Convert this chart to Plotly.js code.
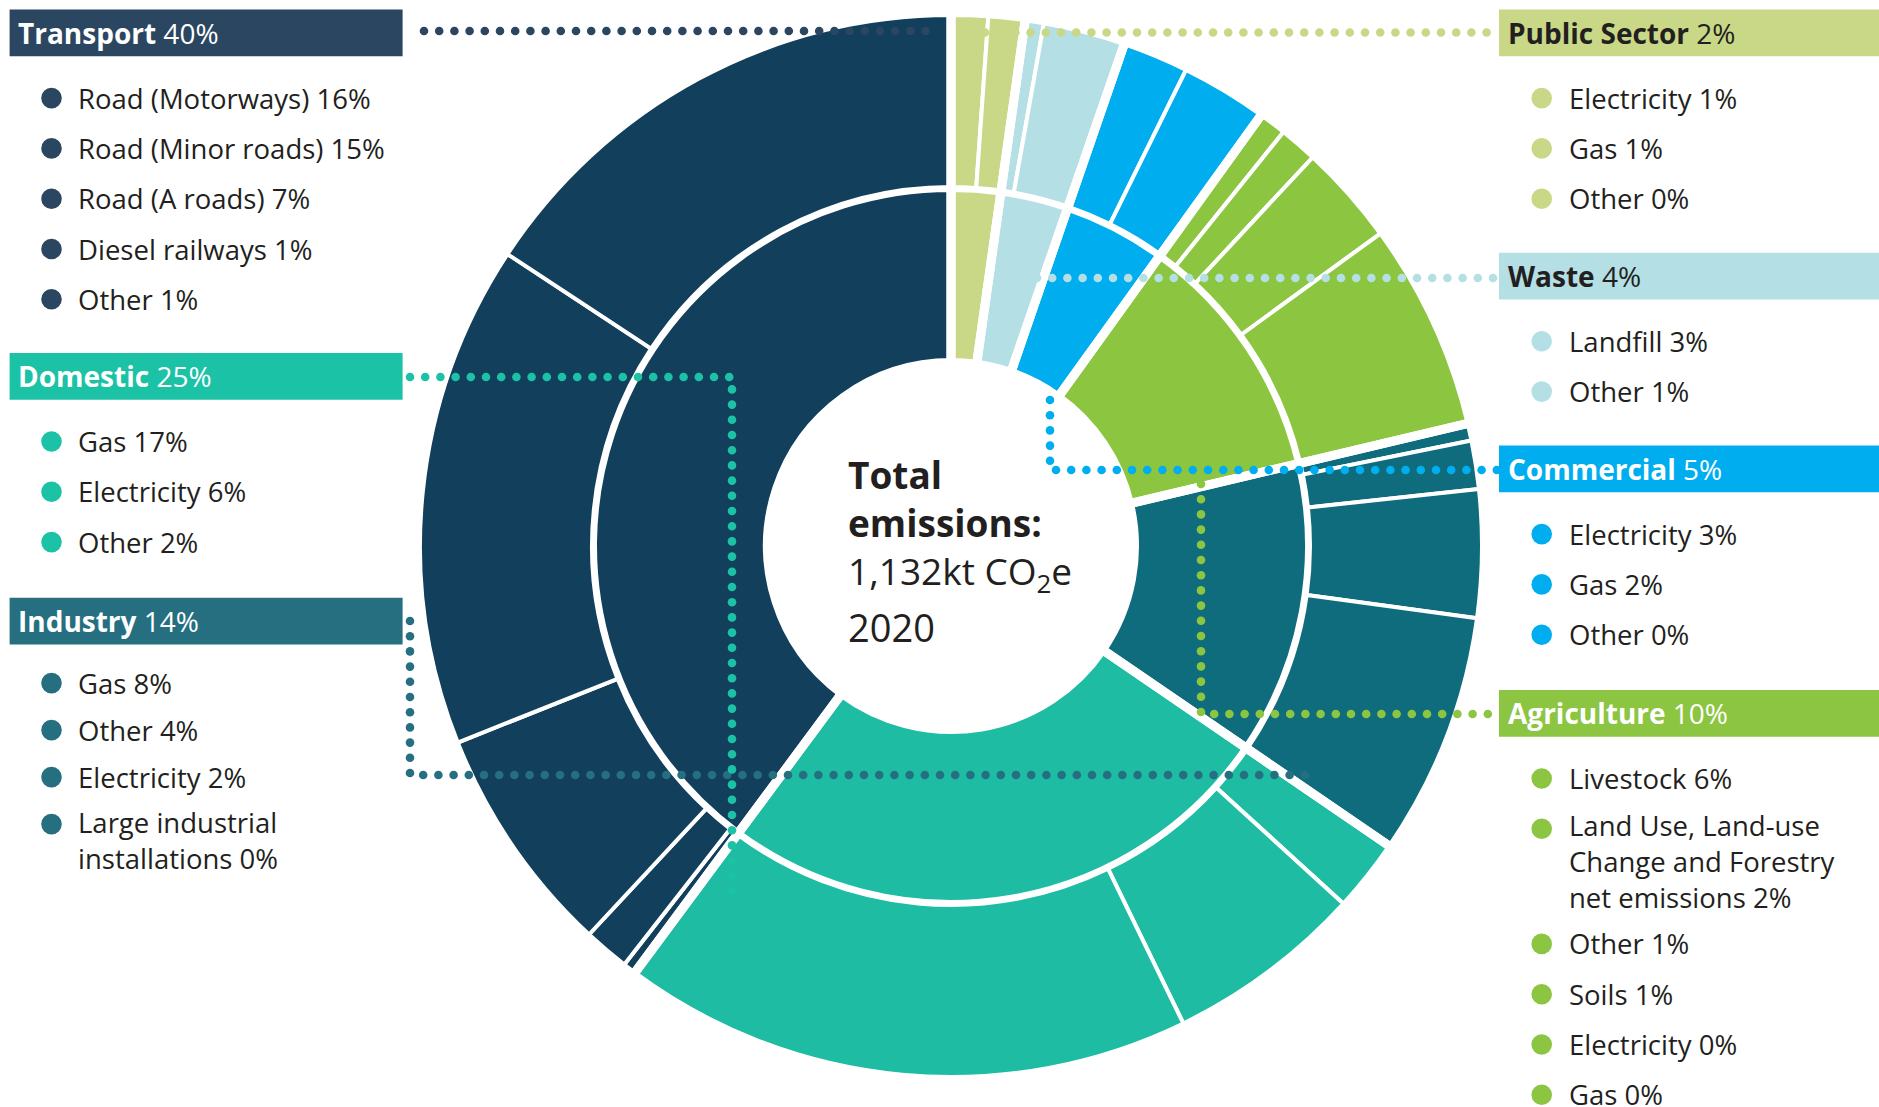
<!DOCTYPE html>
<html><head><meta charset="utf-8">
<script src="https://cdn.plot.ly/plotly-3.0.1.min.js"></script>
<style>html,body{margin:0;padding:0;background:#fff;}#chart{width:1879px;height:1107px;}</style>
</head><body><div id="chart"></div>
<script>
// ================= DATA =================
// Sectors, clockwise from 12 o'clock, with the percentages printed in the key
const categories  = ['Public Sector', 'Waste', 'Commercial', 'Agriculture', 'Industry', 'Domestic', 'Transport'];
const categoryPct = [2, 4, 5, 10, 14, 25, 40];

// Sub-sectors (key order). *Pct = printed %, *Share = slice size (% of circle)
const publicLabels = ['Electricity', 'Gas', 'Other'];
const publicPct    = [1, 1, 0];
const publicShare  = [1.11, 1.12, 0];

const wasteLabels = ['Landfill', 'Other'];
const wastePct    = [3, 1];
const wasteShare  = [2.49, 0.57];

const commercialLabels = ['Electricity', 'Gas', 'Other'];
const commercialPct    = [3, 2, 0];
const commercialShare  = [2.63, 2.01, 0];

const agricultureLabels = ['Livestock', 'Land Use, Land-use\nChange and Forestry\nnet emissions', 'Other', 'Soils', 'Electricity', 'Gas'];
const agriculturePct    = [6, 2, 1, 1, 0, 0];
const agricultureShare  = [6.31, 3.06, 1.16, 0.84, 0, 0];

const industryLabels = ['Gas', 'Other', 'Electricity', 'Large industrial\ninstallations'];
const industryPct    = [8, 4, 2, 0];
const industryShare  = [7.38, 3.89, 1.47, 0.52];

const domesticLabels = ['Gas', 'Electricity', 'Other'];
const domesticPct    = [17, 6, 2];
const domesticShare  = [17.36, 6.03, 2.21];

const transportLabels = ['Road (Motorways)', 'Road (Minor roads)', 'Road (A roads)', 'Diesel railways', 'Other'];
const transportPct    = [16, 15, 7, 1, 1];
const transportShare  = [15.74, 15.30, 7.03, 1.39, 0.40];

const totalTitle = ['Total', 'emissions:'];
const totalValue = '1,132kt CO<sub>2</sub>e';
const totalYear  = '2020';

// ================= STYLE / LAYOUT =================
const W = 1879, H = 1107;
const FONT = 'Open Sans, Noto Sans, sans-serif';
const TXT = '#231f20';
const groups = {
  'Public Sector': {labels: publicLabels, pct: publicPct, share: publicShare},
  'Waste':         {labels: wasteLabels, pct: wastePct, share: wasteShare},
  'Commercial':    {labels: commercialLabels, pct: commercialPct, share: commercialShare},
  'Agriculture':   {labels: agricultureLabels, pct: agriculturePct, share: agricultureShare},
  'Industry':      {labels: industryLabels, pct: industryPct, share: industryShare},
  'Domestic':      {labels: domesticLabels, pct: domesticPct, share: domesticShare},
  'Transport':     {labels: transportLabels, pct: transportPct, share: transportShare}
};
const sliceColor = {'Public Sector':'#c8d886','Waste':'#b3dfe5','Commercial':'#00aeef','Agriculture':'#8cc540',
                    'Industry':'#0f6c7d','Domestic':'#1dbca3','Transport':'#123f5b'};
const keyColor   = {'Public Sector':'#c8d886','Waste':'#b3dfe5','Commercial':'#00aeef','Agriculture':'#8cc541',
                    'Industry':'#256f80','Domestic':'#1cc2a6','Transport':'#2b4660'};
const headTextColor = {'Public Sector':TXT,'Waste':TXT,'Commercial':'#fff','Agriculture':'#fff',
                       'Industry':'#fff','Domestic':'#fff','Transport':'#fff'};
// key block placement (px)
const keyPos = {
  'Transport':     {side:'L', top:9.6,   first:88.5, step:50.3},
  'Domestic':      {side:'L', top:353.0, first:88.5, step:50.3},
  'Industry':      {side:'L', top:597.8, first:85.3, step:47.0},
  'Public Sector': {side:'R', top:9.6,   first:88.5, step:50.3},
  'Waste':         {side:'R', top:252.8, first:88.5, step:50.3},
  'Commercial':    {side:'R', top:445.6, first:88.5, step:50.3},
  'Agriculture':   {side:'R', top:690.0, first:88.5, step:50.3}
};
const connectors = {
  'Transport':     [[424,31],[930,31]],
  'Public Sector': [[985,32.5],[1497,32.5]],
  'Waste':         [[1037,278],[1497,278]],
  'Commercial':    [[1050,400],[1050,470],[1497,470]],
  'Agriculture':   [[1201,484],[1201,714],[1497,714]],
  'Domestic':      [[410,377],[732,377],[732,902]],
  'Industry':      [[410,621],[410,775],[1312,775]]
};
const CX = 951, CY = 546;

const px = x => x / W, py = y => 1 - y / H;
function dom(r){ return {x:[px(CX - r), px(CX + r)], y:[py(CY + r), py(CY - r)]}; }
function circle(cx, cy, r, color){
  return {type:'circle', xref:'paper', yref:'paper', x0:px(cx-r), x1:px(cx+r), y0:py(cy+r), y1:py(cy-r),
          fillcolor:color, line:{width:0}, layer:'above'};
}
function dotsAlong(pts, color){
  const out = []; const step = 15.2, r = 4.3; let carry = 0;
  for (let i = 0; i < pts.length - 1; i++){
    const [x0,y0] = pts[i], [x1,y1] = pts[i+1];
    const L = Math.hypot(x1-x0, y1-y0); let d = carry;
    while (d <= L + 0.01){ const t = d / L; out.push(circle(x0+(x1-x0)*t, y0+(y1-y0)*t, r, color)); d += step; }
    carry = d - L;
  }
  return out;
}

// ---- build pie inputs ----
const outerV = [], outerL = [], outerC = [], innerV = [], innerC = [];
categories.forEach(cat => {
  const g = groups[cat]; let sum = 0;
  for (let i = g.share.length - 1; i >= 0; i--){          // drawn smallest-first, clockwise
    sum += g.share[i];
    if (g.share[i] > 0){ outerV.push(g.share[i]); outerL.push(cat + ' – ' + g.labels[i].replace(/\n/g,' ')); outerC.push(sliceColor[cat]); }
  }
  innerV.push(sum); innerC.push(sliceColor[cat]);
});

const R_OUT = 531, R_OUT_HOLE = 359, R_IN = 356, R_IN_HOLE = 186;
const traces = [
  {type:'pie', values: outerV, labels: outerL, sort:false, direction:'clockwise', rotation:0,
   hole: R_OUT_HOLE / R_OUT, domain: dom(R_OUT), textinfo:'none', hoverinfo:'label+percent',
   marker:{colors: outerC, line:{color:'#ffffff', width:4}}, showlegend:false},
  {type:'pie', values: innerV, labels: categories, sort:false, direction:'clockwise', rotation:0,
   hole: R_IN_HOLE / R_IN, domain: dom(R_IN), textinfo:'none', hoverinfo:'label+percent',
   marker:{colors: innerC, line:{color:'#ffffff', width:4}}, showlegend:false},
  // wider white separators between sectors across both rings
  {type:'pie', values: innerV, labels: categories.map(c => c + ' '), sort:false, direction:'clockwise', rotation:0,
   hole: 150 / 538, domain: dom(538), textinfo:'none', hoverinfo:'skip',
   marker:{colors: innerC.map(() => 'rgba(0,0,0,0)'), line:{color:'#ffffff', width:9}}, showlegend:false}
];

// ---- key, connectors, centre text ----
const shapes = [], annotations = [];
const BOX_H = 46.7, FS_HEAD = 28, FS_ITEM = 27.5, LINE_H = 32.4;
categories.forEach((cat, ci) => {
  const k = keyPos[cat], g = groups[cat];
  const left = k.side === 'L';
  const bx0 = left ? 9.6 : 1499, bx1 = left ? 402.6 : W;
  shapes.push({type:'rect', xref:'paper', yref:'paper', x0:px(bx0), x1:px(bx1), y0:py(k.top + BOX_H), y1:py(k.top),
               fillcolor:keyColor[cat], line:{width:0}, layer:'above'});
  annotations.push({xref:'paper', yref:'paper', x:px(left ? 15.5 : 1505.5), y:py(k.top + BOX_H/2), xanchor:'left', yanchor:'middle',
    text:'<b>' + cat + '</b> ' + categoryPct[ci] + '%', showarrow:false,
    font:{family:FONT, size:FS_HEAD, color:headTextColor[cat]}});
  let y = k.top + k.first;
  const dotX = left ? 51.5 : 1541.7, textX = left ? 75.5 : 1566.5;
  g.labels.forEach((lab, i) => {
    const lines = (lab + ' ' + g.pct[i] + '%').split('\n');
    shapes.push(circle(dotX, y, 10.3, keyColor[cat]));
    const mid = y + (lines.length - 1) * LINE_H / 2;
    annotations.push({xref:'paper', yref:'paper', x:px(textX), y:py(mid), xanchor:'left', yanchor:'middle', align:'left',
      text: lines.join('<br>'), showarrow:false, font:{family:FONT, size:FS_ITEM, color:TXT}});
    y += k.step + (lines.length - 1) * LINE_H;
  });
  dotsAlong(connectors[cat], keyColor[cat]).forEach(s => shapes.push(s));
});

// centre label
annotations.push({xref:'paper', yref:'paper', x:px(846), y:py(498), xanchor:'left', yanchor:'middle', align:'left',
  text: totalTitle.map(t => '<b>' + t + '</b>').join('<br>'), showarrow:false, font:{family:FONT, size:37, color:TXT}});
annotations.push({xref:'paper', yref:'paper', x:px(846), y:py(573), xanchor:'left', yanchor:'middle',
  text: totalValue, showarrow:false, font:{family:FONT, size:37, color:TXT}});
annotations.push({xref:'paper', yref:'paper', x:px(846), y:py(627), xanchor:'left', yanchor:'middle',
  text: totalYear, showarrow:false, font:{family:FONT, size:38, color:TXT}});

Plotly.newPlot('chart', traces, {
  width: W, height: H, margin:{l:0, r:0, t:0, b:0}, paper_bgcolor:'#ffffff', plot_bgcolor:'#ffffff',
  showlegend:false, shapes: shapes, annotations: annotations
}, {displayModeBar:false, staticPlot:true});
</script></body></html>
